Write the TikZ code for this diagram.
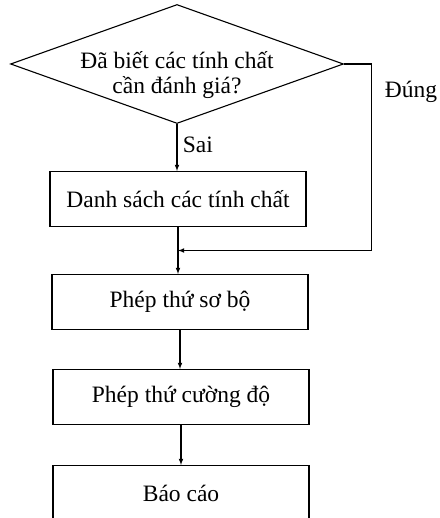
\documentclass[tikz,border=0pt]{standalone}
\usepackage{fontspec}
\setmainfont{Liberation Serif}
\usetikzlibrary{shapes.geometric}
\usetikzlibrary{calc}

\begin{document}
\begin{tikzpicture}[x=1pt,y=-1pt,>=latex,line width=1.1pt,
    font=\fontsize{23.5}{25}\selectfont,
    stepbox/.style={draw,minimum width=256pt,minimum height=55pt,inner sep=0pt}]
  \useasboundingbox (0,0) rectangle (439,518);
  \clip (0,0) rectangle (439,518);

  \node (dq) [draw,diamond,minimum width=333pt,minimum height=119pt,inner sep=0pt] at (177,64) {};
  \node (dqt) [align=center] at (177,75) {Đã biết các tính chất\\cần đánh giá?};
  \node (ds) [stepbox] at (178,199) {Danh sách các tính chất};
  \node (sb) [stepbox] at (180,302) {Phép thứ sơ bộ};
  \node (cd) [stepbox] at (181,397) {Phép thứ cường độ};
  \node (bc) [stepbox] at (181,493) {Báo cáo};

  \coordinate (jn) at ($(ds.south)!0.5!(sb.north)$);
  \draw[->] (dq.south) -- (dq.south |- ds.north)
    node [pos=.45,right=2pt] (sai) {Sai};
  \draw (ds.south) -- (ds.south |- jn);
  \draw[->] (ds.south |- jn) -- (ds.south |- sb.north);
  \draw[->] (dq.east) -- ++(27,0) coordinate (rt) -- (rt |- jn)
    node [pos=.15,right=10pt] (dung) {Đúng} -- (ds.south |- jn);
  \draw[->] (sb.south) -- (sb.south |- cd.north);
  \draw[->] (cd.south) -- (cd.south |- bc.north);
\end{tikzpicture}
\end{document}
